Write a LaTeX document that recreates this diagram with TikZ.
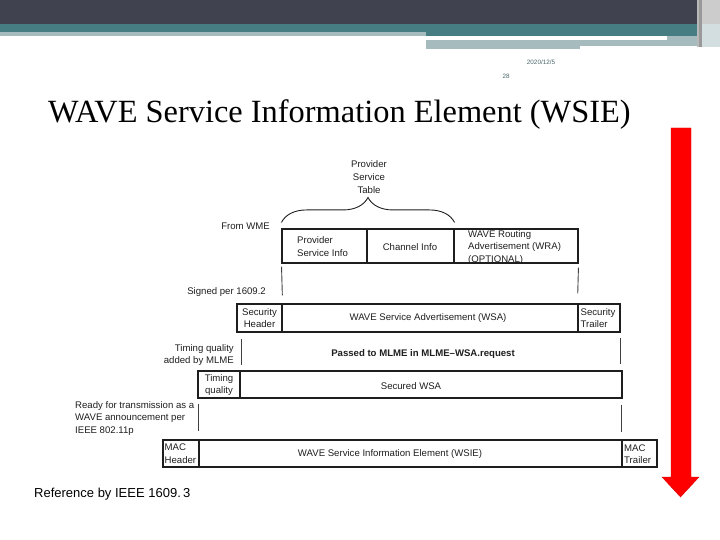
\documentclass[tikz,border=0pt]{standalone}
\usepackage{fontspec}
\setmainfont{Liberation Serif}
\newfontfamily\arialf{Liberation Sans}
\usetikzlibrary{decorations.pathreplacing}
\definecolor{hdark}{HTML}{41424F}
\definecolor{hteal}{HTML}{467D82}
\definecolor{hlight}{HTML}{A5BBBE}
\definecolor{hpale}{HTML}{D3DEE0}
\definecolor{datec}{HTML}{4A6468}
\definecolor{ink}{HTML}{1E1E1E}
\begin{document}
\begin{tikzpicture}[x=1pt,y=-1pt,
  cellbox/.style={draw=ink,line width=1.1pt,inner sep=0pt,rectangle},
  lbl/.style={font=\arialf\fontsize{9.6}{12.6}\selectfont,text=ink,inner sep=0pt},
  link/.style={draw=ink!85,line width=0.9pt}]
\useasboundingbox (0,0) rectangle (720,540);
% header bands
\fill[hdark] (0,0) rectangle (720,24);
\fill[hteal] (0,24) rectangle (426,32);
\fill[hlight] (0,32) rectangle (426,36);
\fill[hteal] (426,24) rectangle (702,36);
\fill[hlight] (426,40) rectangle (707,46);
\fill[hlight] (426,46) rectangle (580,49);
\fill[hlight] (667,36) rectangle (707,46);
\fill[gray!55] (697,0) rectangle (699,47);
\fill[gray!80] (699,0) rectangle (702,47);
\fill[gray!40] (702,0) rectangle (720,24);
\fill[hpale] (702,24) rectangle (720,47);
\node[font=\arialf\fontsize{6.3}{7}\selectfont,text=datec,inner sep=0pt] (date) at (541,62) {2020/12/5};
\node[font=\arialf\fontsize{6.3}{7}\selectfont,text=datec,inner sep=0pt] (pnum) at (506,76) {28};
% title
\node[anchor=base west,inner sep=0pt,font=\fontsize{32.4}{36}\selectfont,text=black] (title) at (48,123) {WAVE Service Information Element (WSIE)};
% red arrow
\fill[red,draw=red!85!black,line width=0.4pt] (671,128) -- (691,128) -- (691,477) -- (699,477) -- (680.5,497) -- (662,477) -- (671,477) -- cycle;
% row 1
\node[cellbox,minimum width=85,minimum height=34] (psi) at (324.5,246) {};
\node[cellbox,minimum width=87,minimum height=34] (ci) at (410.5,246) {};
\node[cellbox,minimum width=124,minimum height=34] (wra) at (516,246) {};
\node[lbl,anchor=west,align=left] (psit) at (297,246.5) {Provider\\Service Info};
\node[lbl] (cit) at (410,247) {Channel Info};
\node[lbl,anchor=west,align=left] (wrat) at (468,247.5) {WAVE Routing\\Advertisement (WRA)\\(OPTIONAL)};
\node[lbl,align=center] (pst) at (369,177) {Provider\\Service\\Table};
\node[lbl,anchor=east] (wme) at (270,226) {From WME};
\draw[ink,line width=0.9pt,decorate,decoration={brace,amplitude=25pt,aspect=0.5}]
  ([yshift=6pt]psi.north west) -- ([yshift=6pt]ci.north east);
% row 2
\node[cellbox,minimum width=45,minimum height=28] (sh) at (259.5,318) {};
\node[cellbox,minimum width=296,minimum height=28] (wsa) at (430,318) {};
\node[cellbox,minimum width=42,minimum height=28] (st) at (599,318) {};
\node[lbl,align=center] (sht) at (259.5,318) {Security\\Header};
\node[lbl] (wsat) at (428,318) {WAVE Service Advertisement (WSA)};
\node[lbl,anchor=west,align=left] (stt) at (580.5,318) {Security\\Trailer};
\node[lbl,anchor=east] (signed) at (266,292) {Signed per 1609.2};
% row 3
\node[cellbox,minimum width=42,minimum height=27] (tq) at (219,384.5) {};
\node[cellbox,minimum width=382,minimum height=27] (sw) at (431,384.5) {};
\node[lbl,align=center] (tqt) at (219,385) {Timing\\quality};
\node[lbl] (swt) at (411,386) {Secured WSA};
\node[lbl,anchor=east,align=right] (tqa) at (234,355) {Timing quality\\added by MLME};
\node[lbl,font=\arialf\bfseries\fontsize{9.6}{12.6}\selectfont] (pass) at (423,354) {Passed to MLME in MLME\textendash WSA.request};
% row 4
\node[cellbox,minimum width=36,minimum height=27] (mh) at (181,453.5) {};
\node[cellbox,minimum width=423,minimum height=27] (wsie) at (410.5,453.5) {};
\node[cellbox,minimum width=35,minimum height=27] (mt) at (639.5,453.5) {};
\node[lbl,anchor=west,align=left] (mht) at (164.5,453.5) {MAC\\Header};
\node[lbl] (wsiet) at (390,454) {WAVE Service Information Element (WSIE)};
\node[lbl,anchor=west,align=left] (mtt) at (624,454) {MAC\\Trailer};
\node[lbl,anchor=west,align=left] (ready) at (75,418.5) {Ready for transmission as a\\WAVE announcement per\\IEEE 802.11p};
% gap connectors
\draw[link,shorten <=3pt,shorten >=8pt] (psi.south west) -- (sh.north east);
\draw[link,shorten <=4pt,shorten >=10pt] (wra.south east) -- (st.north west);
\draw[link,shorten <=6pt,shorten >=5pt] ([xshift=1pt]tq.north east |- sh.south) -- ([xshift=1pt]tq.north east);
\draw[link,shorten <=5pt,shorten >=6pt] (st.south east) -- (st.south east |- sw.north);
\draw[link,shorten <=5pt,shorten >=8pt] ([xshift=1pt]tq.south west) -- ([xshift=1pt]tq.south west |- mh.north);
\draw[link,shorten <=6pt,shorten >=7pt] ([xshift=-1pt]sw.south east) -- ([xshift=-1pt]sw.south east |- mt.north);
% reference
\node[font=\arialf\fontsize{13}{15}\selectfont,text=black,anchor=west,inner sep=0pt] (ref) at (34,494) {Reference by IEEE 1609.\,3};
\end{tikzpicture}
\end{document}
